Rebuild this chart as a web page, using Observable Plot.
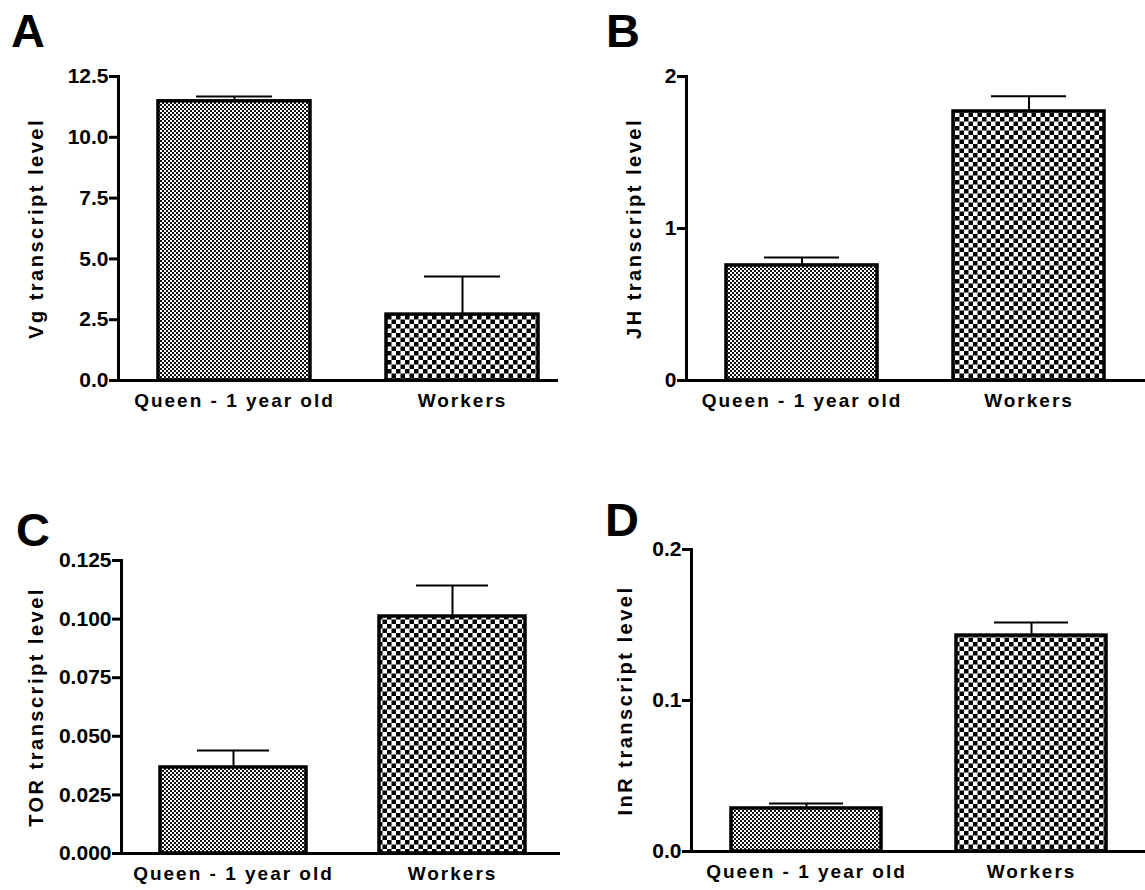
<!DOCTYPE html>
<html>
<head>
<meta charset="utf-8">
<script src="https://cdn.jsdelivr.net/npm/d3@7"></script>
<script src="https://cdn.jsdelivr.net/npm/@observablehq/plot@0.6"></script>
<style>
  body { margin: 0; background: #fff; }
  #fig { position: relative; width: 1145px; height: 890px; overflow: hidden; background: #fff; }
  .panel { position: absolute; }
  .letter { position: absolute; font-family: "Liberation Sans", Arial, sans-serif; font-weight: bold; font-size: 47px; line-height: 1; color: #000; }
  .panel svg [aria-label="x-axis tick label"] text { letter-spacing: 2px; }
  .panel svg [aria-label="y-axis label"] { font-size: 20px; letter-spacing: 2.5px; }
</style>
</head>
<body>
<svg width="0" height="0" style="position:absolute">
  <defs>
    <pattern id="fineChecker" width="4" height="4" patternUnits="userSpaceOnUse">
      <rect width="4" height="4" fill="#fff"></rect>
      <rect width="2" height="2" fill="#111"></rect>
      <rect x="2" y="2" width="2" height="2" fill="#111"></rect>
    </pattern>
    <pattern id="coarseChecker" width="9" height="9" patternUnits="userSpaceOnUse">
      <rect width="9" height="9" fill="#fff"></rect>
      <rect width="4.5" height="4.5" fill="#000"></rect>
      <rect x="4.5" y="4.5" width="4.5" height="4.5" fill="#000"></rect>
    </pattern>
  </defs>
</svg>
<div id="fig"></div>
<script>
// ---- data ----
const groups = ["Queen - 1 year old", "Workers"];

const vgMean  = [11.48, 2.71];
const vgUpper = [11.68, 4.28];
const vgTicks = [0, 2.5, 5, 7.5, 10, 12.5];

const jhMean  = [0.757, 1.77];
const jhUpper = [0.81, 1.87];
const jhTicks = [0, 1, 2];

const torMean  = [0.0367, 0.1011];
const torUpper = [0.0439, 0.1143];
const torTicks = [0, 0.025, 0.05, 0.075, 0.1, 0.125];

const inrMean  = [0.0285, 0.143];
const inrUpper = [0.0318, 0.1517];
const inrTicks = [0, 0.1, 0.2];

const panelLetters = ["A", "B", "C", "D"];
const yTitles = ["Vg transcript level", "JH transcript level", "TOR transcript level", "InR transcript level"];

// ---- drawing ----
const fig = document.getElementById("fig");
const FONT = '"Liberation Sans", Arial, sans-serif';

function makePanel(cfg) {
  const data = groups.map((g, i) => ({group: g, mean: cfg.mean[i], upper: cfg.upper[i]}));
  const yMax = cfg.ticks[cfg.ticks.length - 1];
  const plot = Plot.plot({
    width: cfg.w, height: cfg.h,
    marginLeft: cfg.ml, marginRight: cfg.mr, marginTop: cfg.mt, marginBottom: cfg.mb,
    style: {fontFamily: FONT, color: "#000", background: "transparent"},
    x: {type: "band", domain: groups, range: cfg.xRange, paddingInner: 1/3, paddingOuter: 1/6, align: 0.5},
    y: {domain: [0, yMax]},
    color: {type: "identity"},
    marks: [
      Plot.barY(data, {
        x: "group", y: "mean",
        fill: d => d.group === groups[0] ? "url(#fineChecker)" : "url(#coarseChecker)",
        stroke: "#000", strokeWidth: 3.5
      }),
      Plot.ruleX(data, {x: "group", y1: "mean", y2: "upper", stroke: "#000", strokeWidth: 2}),
      Plot.tickY(data, {x: "group", y: "upper", stroke: "#000", strokeWidth: 2, inset: cfg.capInset}),
      Plot.axisY(cfg.ticks, {
        tickSize: 9, tickPadding: 1, strokeWidth: 3, tickFormat: cfg.fmt,
        fontSize: 21, fontWeight: "bold",
        label: cfg.title, labelAnchor: "center", labelOffset: cfg.labelOffset, labelArrow: "none"
      }),
      Plot.axisX({tickSize: 0, tickPadding: 13, fontSize: 19, fontWeight: "bold", label: null}),
      Plot.frame({anchor: "left", stroke: "#000", strokeWidth: 3}),
      Plot.ruleY([0], {stroke: "#000", strokeWidth: 3})
    ]
  });
  const div = document.createElement("div");
  div.className = "panel";
  div.style.left = cfg.left + "px";
  div.style.top = cfg.top + "px";
  div.style.width = cfg.w + "px";
  div.appendChild(plot);
  fig.appendChild(div);

  const letter = document.createElement("div");
  letter.className = "letter";
  letter.textContent = cfg.letter;
  letter.style.left = cfg.letterX + "px";
  letter.style.top = cfg.letterY + "px";
  fig.appendChild(letter);
}

makePanel({
  left: 0, top: 0, w: 572, h: 440, ml: 118, mr: 14, mt: 76, mb: 60,
  xRange: [120, 576], capInset: 38,
  mean: vgMean, upper: vgUpper, ticks: vgTicks, fmt: d3.format(".1f"),
  title: yTitles[0], labelOffset: 90, letter: panelLetters[0], letterX: 11, letterY: 7
});
makePanel({
  left: 568, top: 0, w: 577, h: 440, ml: 118, mr: 0, mt: 76, mb: 60,
  xRange: [120, 575], capInset: 38,
  mean: jhMean, upper: jhUpper, ticks: jhTicks, fmt: d3.format("d"),
  title: yTitles[1], labelOffset: 60, letter: panelLetters[1], letterX: 606, letterY: 7
});
makePanel({
  left: 0, top: 480, w: 572, h: 410, ml: 121, mr: 12, mt: 80, mb: 37,
  xRange: [123.5, 561.5], capInset: 37,
  mean: torMean, upper: torUpper, ticks: torTicks, fmt: d3.format(".3f"),
  title: yTitles[2], labelOffset: 93, letter: panelLetters[2], letterX: 16, letterY: 506
});
makePanel({
  left: 568, top: 480, w: 577, h: 410, ml: 123, mr: 0, mt: 69, mb: 39,
  xRange: [125.5, 575.5], capInset: 38,
  mean: inrMean, upper: inrUpper, ticks: inrTicks, fmt: d3.format(".1f"),
  title: yTitles[3], labelOffset: 74, letter: panelLetters[3], letterX: 605, letterY: 496
});
</script>
</body>
</html>
